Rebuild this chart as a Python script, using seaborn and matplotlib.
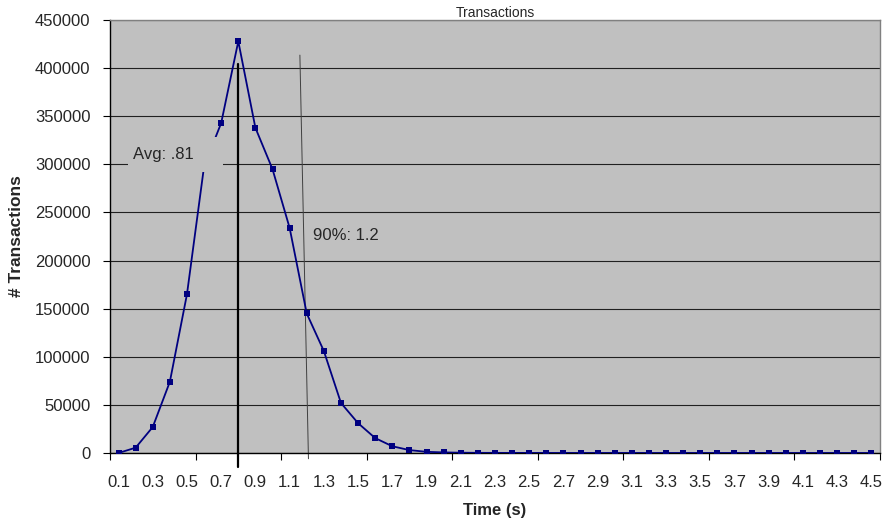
import numpy as np
import pandas as pd
import seaborn as sns
import matplotlib.pyplot as plt
from matplotlib.patches import Rectangle

# Excel-like look
sns.set_style("ticks")
plt.rcParams["font.family"] = ["Liberation Sans", "DejaVu Sans"]

times = ["0.1", "0.2", "0.3", "0.4", "0.5", "0.6", "0.7", "0.8", "0.9", "1.0",
         "1.1", "1.2", "1.3", "1.4", "1.5", "1.6", "1.7", "1.8", "1.9", "2.0",
         "2.1", "2.2", "2.3", "2.4", "2.5", "2.6", "2.7", "2.8", "2.9", "3.0",
         "3.1", "3.2", "3.3", "3.4", "3.5", "3.6", "3.7", "3.8", "3.9", "4.0",
         "4.1", "4.2", "4.3", "4.4", "4.5"]
counts = [0, 5500, 27000, 74000, 165000, 298000, 343000, 428000, 338000, 295000,
          234000, 145000, 106000, 52000, 31000, 15500, 7000, 3000, 1200, 600,
          300, 150, 100, 80, 60, 50, 40, 30, 25, 20,
          15, 12, 10, 8, 6, 5, 4, 3, 3, 2,
          2, 1, 1, 1, 1]

avg_label = "Avg: .81"
avg_time = "0.8"
p90_label = "90%: 1.2"
p90_time = "1.2"

df = pd.DataFrame({"pos": np.arange(len(times)), "time": times, "count": counts})

fig = plt.figure(figsize=(8.89, 5.29), dpi=100)
ax = fig.add_axes([0.1237, 0.1437, 0.8661, 0.8183])
ax.set_facecolor("#c0c0c0")

sns.lineplot(data=df, x="pos", y="count", ax=ax, color="#000080", linewidth=1.3,
             marker="s", markersize=4.5, markeredgewidth=0, zorder=3)

ax.set_xlim(-0.5, len(times) - 0.5)
ax.set_ylim(0, 450000)

# y axis
ax.set_yticks(np.arange(0, 450001, 50000))
ax.set_yticklabels([str(v) for v in range(0, 450001, 50000)])
ax.yaxis.grid(True, color="#202020", linewidth=0.8)
ax.set_axisbelow(True)
ax.tick_params(axis="y", length=5, width=0.8, labelsize=12, pad=9, color="black")

# x axis: labels every other category, tick marks every 5 categories
ax.set_xticks(df["pos"][::2])
ax.set_xticklabels(df["time"][::2])
ax.tick_params(axis="x", which="major", length=0, labelsize=12, pad=16)
ax.set_xticks(np.arange(-0.5, len(times), 5), minor=True)
ax.tick_params(axis="x", which="minor", length=5, width=0.8, color="black")

for side in ["top", "right"]:
    ax.spines[side].set_color("#808080")
    ax.spines[side].set_linewidth(1.0)
for side in ["left", "bottom"]:
    ax.spines[side].set_color("black")
    ax.spines[side].set_linewidth(1.0)

ax.set_xlabel("Time (s)", fontsize=12, fontweight="bold", labelpad=9)
ax.set_ylabel("# Transactions", fontsize=12.5, fontweight="bold", labelpad=8)
ax.set_title("Transactions", fontsize=10, pad=1)

# average marker line and label
avg_pos = times.index(avg_time)
ax.plot([avg_pos, avg_pos], [404000, -14500], color="black", linewidth=1.6,
        clip_on=False, zorder=4)
ax.add_patch(Rectangle((0.53, 292000), 5.56, 36500, facecolor="#c0c0c0",
                       edgecolor="none", zorder=5))
ax.text(0.82, 310000, avg_label, fontsize=12, va="center", ha="left", zorder=6)

# 90th percentile line and label
p90_pos = times.index(p90_time)
ax.plot([p90_pos - 0.4, p90_pos + 0.1], [413600, -6000], color="#404040",
        linewidth=0.7, clip_on=False, zorder=2)
ax.text(p90_pos + 0.35, 226000, p90_label, fontsize=12, va="center", ha="left", zorder=6)

fig.savefig("out.png", dpi=100)
